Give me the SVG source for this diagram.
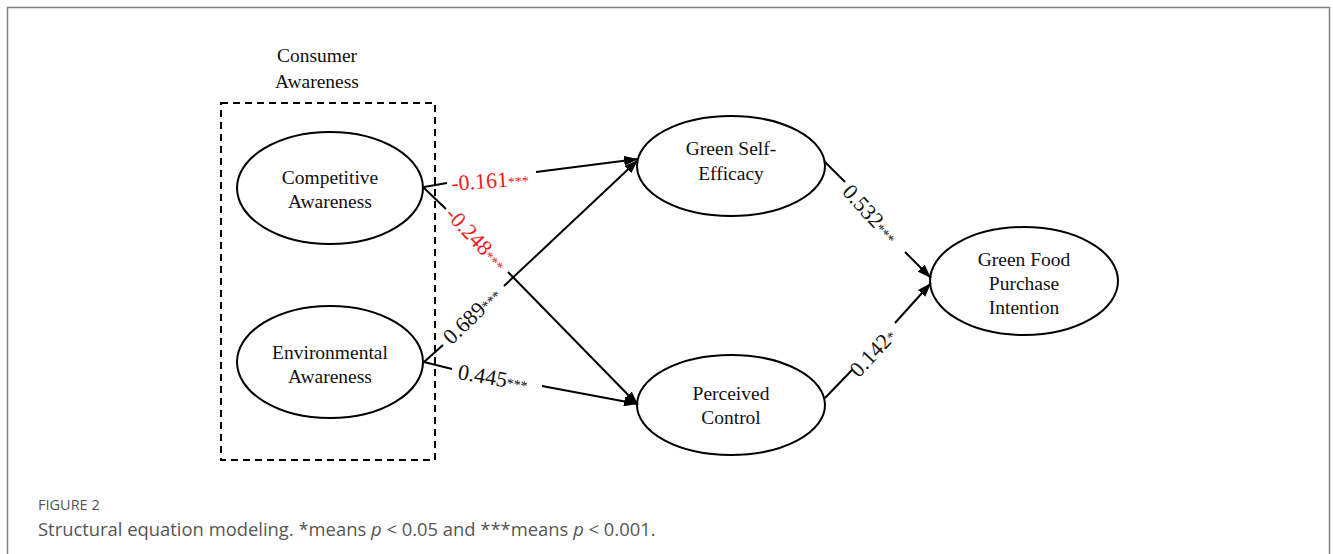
<svg xmlns="http://www.w3.org/2000/svg" width="1333" height="554" viewBox="0 0 1333 554">
<defs>
<style>
.node ellipse{fill:#fff;stroke:#000;stroke-width:2}
.nt{font-family:"Liberation Serif","Times New Roman",serif;font-size:19.5px;fill:#111;text-anchor:middle}
.conn line{stroke:#000;stroke-width:2}
.lab{font-family:"Liberation Serif","Times New Roman",serif;font-size:22px;fill:#111;text-anchor:middle}
.red{fill:#f01818}
.st{font-size:14px}
.cap{font-family:"Open Sans","Noto Sans",sans-serif;fill:#555}
</style>
<marker id="ah" viewBox="0 0 14 10" refX="14" refY="5" markerWidth="14" markerHeight="10" orient="auto" markerUnits="userSpaceOnUse">
<path d="M0,0 L14,5 L0,10 z" fill="#000"/>
</marker>
</defs>
<rect x="7.5" y="7.5" width="1322" height="570" fill="#fff" stroke="#808080" stroke-width="1.5"/>

<g id="consumer-awareness">
<rect x="221" y="103" width="214" height="357" fill="none" stroke="#000" stroke-width="2" stroke-dasharray="7,5"/>
<text class="nt" x="317" y="62" font-size="20.5">Consumer</text>
<text class="nt" x="317" y="88" font-size="20.5">Awareness</text>
</g>

<g id="competitive" class="node">
<ellipse cx="330" cy="188" rx="93" ry="56"/>
<text class="nt" x="330" y="184">Competitive</text>
<text class="nt" x="330" y="208">Awareness</text>
</g>
<g id="environmental" class="node">
<ellipse cx="330" cy="362" rx="93" ry="56"/>
<text class="nt" x="330" y="359">Environmental</text>
<text class="nt" x="330" y="383">Awareness</text>
</g>
<g id="self-efficacy" class="node">
<ellipse cx="731" cy="166" rx="94" ry="50"/>
<text class="nt" x="731" y="155">Green Self-</text>
<text class="nt" x="731" y="180">Efficacy</text>
</g>
<g id="perceived-control" class="node">
<ellipse cx="731" cy="405" rx="94" ry="50"/>
<text class="nt" x="731" y="400">Perceived</text>
<text class="nt" x="731" y="424">Control</text>
</g>
<g id="purchase-intention" class="node">
<ellipse cx="1024" cy="281" rx="94" ry="54"/>
<text class="nt" x="1024" y="266">Green Food</text>
<text class="nt" x="1024" y="290">Purchase</text>
<text class="nt" x="1024" y="314">Intention</text>
</g>

<g id="connectors" class="conn">
<line x1="424" y1="187" x2="447" y2="183"/>
<line x1="536" y1="172" x2="638" y2="159" marker-end="url(#ah)"/>
<line x1="424" y1="188" x2="446" y2="209"/>
<line x1="508" y1="272" x2="638" y2="405" marker-end="url(#ah)"/>
<line x1="424" y1="362" x2="443" y2="345"/>
<line x1="504" y1="286" x2="638" y2="160" marker-end="url(#ah)"/>
<line x1="424" y1="362" x2="452" y2="369"/>
<line x1="542" y1="386" x2="638" y2="404" marker-end="url(#ah)"/>
<line x1="824" y1="161" x2="845" y2="182"/>
<line x1="905" y1="252" x2="931" y2="278" marker-end="url(#ah)"/>
<line x1="825" y1="398" x2="852" y2="370"/>
<line x1="895" y1="323" x2="931" y2="283" marker-end="url(#ah)"/>
</g>

<g id="labels">
<text class="lab red" transform="translate(490,181) rotate(-4)" y="7">-0.161<tspan class="st">***</tspan></text>
<text class="lab red" transform="translate(476,239) rotate(47)" y="7">-0.248<tspan class="st">***</tspan></text>
<text class="lab" transform="translate(472,316) rotate(-44)" y="7">0.689<tspan class="st">***</tspan></text>
<text class="lab" transform="translate(493,378) rotate(10)" y="7">0.445<tspan class="st">***</tspan></text>
<text class="lab" transform="translate(870,214) rotate(48)" y="7">0.532<tspan class="st">***</tspan></text>
<text class="lab" transform="translate(873,353) rotate(-47)" y="7">0.142<tspan class="st">*</tspan></text>
</g>

<g id="caption">
<text class="cap" x="38" y="510" font-size="14.5" fill="#666">FIGURE 2</text>
<text class="cap" x="38" y="536" font-size="18.4">Structural equation modeling. *means <tspan font-style="italic">p</tspan> &lt; 0.05 and ***means <tspan font-style="italic">p</tspan> &lt; 0.001.</text>
</g>
</svg>
